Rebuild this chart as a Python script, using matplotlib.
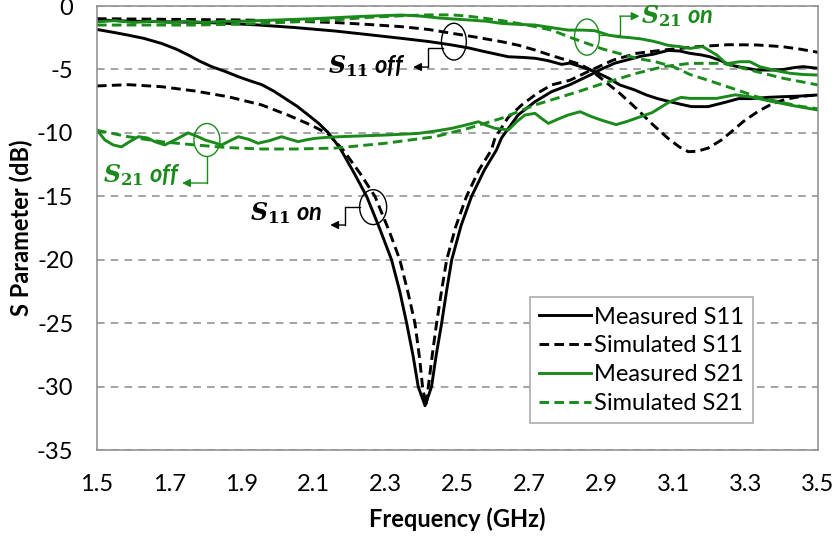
import matplotlib
matplotlib.use("Agg")
import matplotlib.pyplot as plt
from matplotlib.patches import Ellipse

plt.rcParams["font.family"] = ["Lato", "DejaVu Sans"]
plt.rcParams["mathtext.fontset"] = "dejavuserif"

# measured S11, "on" state (deep resonance near 2.41 GHz)
f_m11_on = [1.5, 1.55, 1.587, 1.63, 1.679, 1.72, 1.753, 1.785, 1.818, 1.855,
            1.892, 1.925, 1.957, 1.99, 2.021, 2.055, 2.086, 2.115, 2.142, 2.174,
            2.21, 2.248, 2.285, 2.317, 2.34, 2.359, 2.377, 2.391, 2.41, 2.428,
            2.441, 2.456, 2.47, 2.484, 2.51, 2.539, 2.575, 2.608, 2.622, 2.668,
            2.715, 2.761, 2.812, 2.867, 2.904, 2.937, 2.969, 3.01, 3.043, 3.084,
            3.117, 3.145, 3.177, 3.2, 3.23, 3.256, 3.29, 3.329, 3.37, 3.404,
            3.435, 3.459, 3.5]
m11_on = [-1.85, -2.1, -2.3, -2.55, -2.95, -3.4, -3.86, -4.35, -4.78, -5.15,
          -5.57, -5.9, -6.2, -6.7, -7.27, -7.9, -8.59, -9.25, -10.0, -11.2,
          -13.0, -15.0, -17.6, -20.0, -22.5, -25.0, -27.6, -30.0, -31.5, -30.0,
          -27.5, -25.0, -22.4, -20.0, -17.3, -15.0, -12.9, -11.35, -10.4, -8.59,
          -7.54, -6.75, -6.2, -5.45, -4.91, -4.5, -4.26, -3.95, -3.8, -3.5,
          -3.55, -3.73, -3.86, -4.0, -4.3, -4.65, -4.85, -5.04, -5.05, -5.0,
          -4.85, -4.78, -4.91]

# simulated S11, "on" state
f_s11_on = [1.5, 1.587, 1.679, 1.772, 1.864, 1.957, 2.03, 2.095, 2.142, 2.183,
            2.23, 2.271, 2.31, 2.34, 2.362, 2.382, 2.395, 2.403, 2.413, 2.419,
            2.43, 2.442, 2.456, 2.47, 2.495, 2.525, 2.56, 2.594, 2.604, 2.64,
            2.678, 2.72, 2.761, 2.812, 2.867, 2.932, 2.997, 3.071, 3.168, 3.25,
            3.33, 3.4, 3.45, 3.5]
s11_on = [-6.3, -6.2, -6.36, -6.7, -7.15, -7.8, -8.6, -9.4, -10.1, -11.35,
          -13.2, -15.0, -17.7, -20.0, -22.5, -25.0, -27.8, -30.0, -31.5, -30.0,
          -27.5, -25.0, -22.4, -20.0, -17.4, -15.0, -12.9, -11.35, -10.4, -8.8,
          -7.8, -6.9, -6.22, -5.85, -5.1, -4.26, -3.73, -3.47, -3.2, -3.05,
          -3.07, -3.2, -3.4, -3.65]

# measured S11, "off" state
f_m11_off = [1.5, 1.6, 1.7, 1.8, 1.864, 1.95, 2.05, 2.16, 2.25, 2.345,
             2.42, 2.484, 2.53, 2.576, 2.641, 2.68, 2.715, 2.75, 2.789, 2.812,
             2.849, 2.881, 2.92, 2.95, 2.99, 3.024, 3.055, 3.089, 3.12, 3.149,
             3.195, 3.241, 3.28, 3.315, 3.36, 3.399, 3.45, 3.5]
m11_off = [-1.1, -1.2, -1.25, -1.3, -1.37, -1.5, -1.7, -1.97, -2.25, -2.55,
           -2.8, -3.07, -3.3, -3.6, -4.0, -4.05, -4.12, -4.3, -4.6, -4.5,
           -4.85, -5.17, -5.7, -6.22, -6.6, -7.01, -7.3, -7.54, -7.75, -7.93,
           -7.93, -7.6, -7.3, -7.3, -7.2, -7.15, -7.1, -7.01]

# simulated S11, "off" state
f_s11_off = [1.5, 1.7, 1.9, 2.05, 2.16, 2.25, 2.345, 2.42, 2.484, 2.55,
             2.622, 2.67, 2.715, 2.76, 2.807, 2.84, 2.867, 2.904, 2.95, 2.997,
             3.04, 3.084, 3.115, 3.14, 3.165, 3.195, 3.23, 3.26, 3.293, 3.334,
             3.37, 3.41, 3.454, 3.5]
s11_off = [-1.0, -1.05, -1.1, -1.2, -1.3, -1.45, -1.63, -1.85, -2.15, -2.45,
           -2.81, -3.1, -3.47, -3.9, -4.3, -4.6, -5.0, -5.83, -6.88, -8.1,
           -9.3, -10.43, -11.1, -11.48, -11.45, -11.2, -10.6, -9.9, -9.1, -8.3,
           -7.75, -7.35, -7.12, -7.0]

# measured S21, "on" state
f_m21_on = [1.5, 1.55, 1.6, 1.65, 1.7, 1.75, 1.8, 1.85, 1.9, 1.95,
            2.0, 2.05, 2.1, 2.16, 2.25, 2.345, 2.4, 2.45, 2.53, 2.58,
            2.622, 2.67, 2.715, 2.76, 2.807, 2.85, 2.881, 2.92, 2.946, 2.98,
            3.01, 3.038, 3.06, 3.084, 3.117, 3.145, 3.18, 3.219, 3.246, 3.283,
            3.311, 3.338, 3.375, 3.422, 3.46, 3.5]
m21_on = [-1.25, -1.15, -1.3, -1.2, -1.3, -1.2, -1.3, -1.2, -1.2, -1.15,
          -1.1, -1.05, -1.0, -0.92, -0.8, -0.71, -0.8, -0.95, -1.1, -1.2,
          -1.37, -1.45, -1.5, -1.7, -1.9, -1.9, -1.95, -2.3, -2.42, -2.5,
          -2.6, -2.75, -2.9, -3.1, -3.2, -3.34, -3.2, -3.86, -4.55, -4.39,
          -4.39, -4.78, -5.04, -5.3, -5.4, -5.44]

# simulated S21, "on" state
f_s21_on = [1.5, 1.6, 1.772, 1.864, 1.957, 2.05, 2.16, 2.25, 2.345, 2.42,
            2.484, 2.53, 2.576, 2.622, 2.668, 2.715, 2.761, 2.82, 2.904, 2.997,
            3.05, 3.1, 3.145, 3.2, 3.274, 3.33, 3.4, 3.45, 3.5]
s21_on = [-1.5, -1.5, -1.5, -1.45, -1.37, -1.25, -1.1, -0.9, -0.77, -0.7,
          -0.7, -0.8, -0.97, -1.15, -1.37, -1.62, -1.9, -2.55, -3.4, -4.12,
          -4.4, -4.8, -5.4, -5.9, -6.6, -7.15, -7.6, -7.9, -8.1]

# measured S21, "off" state
f_m21_off = [1.5, 1.522, 1.545, 1.568, 1.59, 1.615, 1.64, 1.661, 1.688, 1.72,
             1.753, 1.78, 1.8, 1.846, 1.87, 1.892, 1.92, 1.947, 1.98, 2.012,
             2.035, 2.058, 2.08, 2.105, 2.14, 2.174, 2.22, 2.299, 2.35, 2.391,
             2.44, 2.484, 2.52, 2.558, 2.58, 2.604, 2.641, 2.665, 2.687, 2.715,
             2.735, 2.752, 2.78, 2.807, 2.84, 2.87, 2.9, 2.94, 2.97, 3.0,
             3.04, 3.089, 3.12, 3.145, 3.219, 3.27, 3.311, 3.375, 3.44, 3.5]
m21_off = [-9.77, -10.56, -10.95, -11.1, -10.7, -10.3, -10.4, -10.7, -10.95, -10.5,
           -10.0, -10.3, -10.56, -10.95, -10.6, -10.3, -10.5, -10.82, -10.6, -10.3,
           -10.5, -10.69, -10.55, -10.43, -10.35, -10.3, -10.25, -10.17, -10.1, -10.04,
           -9.85, -9.64, -9.4, -9.12, -9.4, -9.64, -9.77, -9.1, -8.59, -8.46,
           -8.9, -9.25, -8.9, -8.59, -8.33, -8.7, -9.0, -9.35, -9.1, -8.8,
           -8.4, -7.54, -7.2, -7.28, -7.28, -7.0, -7.15, -7.54, -7.9, -8.2]

# simulated S21, "off" state
f_s21_off = [1.5, 1.587, 1.679, 1.772, 1.864, 1.957, 2.049, 2.16, 2.299, 2.438,
             2.53, 2.622, 2.715, 2.84, 2.904, 2.997, 3.071, 3.145, 3.237, 3.311,
             3.404, 3.5]
s21_off = [-9.8, -10.3, -10.7, -10.95, -11.16, -11.27, -11.27, -11.2, -10.82, -10.3,
           -9.64, -8.85, -7.8, -6.7, -6.1, -5.3, -4.78, -4.52, -4.52, -5.04,
           -5.7, -6.22]

x_ticks = [1.5, 1.7, 1.9, 2.1, 2.3, 2.5, 2.7, 2.9, 3.1, 3.3, 3.5]
y_ticks = [0, -5, -10, -15, -20, -25, -30, -35]

black = "black"
green = "#1a8a1a"
dash = (3.3, 1.8)

fig = plt.figure(figsize=(8.36, 5.41), dpi=100)
ax = fig.add_axes([0.116, 0.168, 0.8625, 0.8209])

lw = 2.1
ax.plot(f_m11_on, m11_on, color=black, lw=lw, label="Measured S11")
ax.plot(f_m11_off, m11_off, color=black, lw=lw)
ax.plot(f_s11_on, s11_on, color=black, lw=lw, dashes=dash, label="Simulated S11")
ax.plot(f_s11_off, s11_off, color=black, lw=lw, dashes=dash)
ax.plot(f_m21_on, m21_on, color=green, lw=lw, label="Measured S21")
ax.plot(f_m21_off, m21_off, color=green, lw=lw)
ax.plot(f_s21_on, s21_on, color=green, lw=lw, dashes=dash, label="Simulated S21")
ax.plot(f_s21_off, s21_off, color=green, lw=lw, dashes=dash)

ax.set_xlim(1.5, 3.5)
ax.set_ylim(-35, 0)
ax.set_xticks(x_ticks)
ax.set_xticklabels([f"{v:.1f}" for v in x_ticks])
ax.set_yticks(y_ticks)
ax.set_yticklabels([f"{v:d}" for v in y_ticks])
ax.tick_params(length=0, labelsize=17, pad=17)
ax.yaxis.grid(True, color="#8c8c8c", lw=1.1, linestyle=(0, (5, 4)))
ax.set_axisbelow(True)
for s in ax.spines.values():
    s.set_color("#8c8c8c")
    s.set_linewidth(1.1)

ax.set_xlabel("Frequency (GHz)", fontsize=17, fontweight="bold", labelpad=9)
ax.set_ylabel("S Parameter (dB)", fontsize=17, fontweight="bold")
ax.yaxis.set_label_coords(-0.089, 0.5)

leg = ax.legend(loc="upper left", bbox_to_anchor=(0.6006, 0.3446), borderaxespad=0,
                fontsize=17, handlelength=2.2, handletextpad=0.1, labelspacing=0.33,
                frameon=True, fancybox=False, framealpha=1, borderpad=0.4)
leg.get_frame().set_edgecolor("#a6a6a6")
leg.get_frame().set_linewidth(1.1)


# annotations: ellipse on the curves, elbow connector, arrow to the label
def callout(center, w, h, path, color, text, text_xy, ha):
    ax.add_patch(Ellipse(center, w, h, fill=False, edgecolor=color, lw=1.0, zorder=5))
    xs = [p[0] for p in path[:-1]]
    ys = [p[1] for p in path[:-1]]
    ax.plot(xs, ys, color=color, lw=1.0, zorder=5)
    ax.annotate("", xy=path[-1], xytext=path[-2],
                arrowprops=dict(arrowstyle="-|>", color=color, lw=1.0,
                                mutation_scale=12, shrinkA=0, shrinkB=0), zorder=5)
    ax.text(text_xy[0], text_xy[1], text, color=color, fontsize=17, fontweight="bold",
            fontstyle="italic", ha=ha, va="center", zorder=5)


callout((2.490, -2.81), 0.069, 2.9, [(2.46, -3.31), (2.418, -3.31), (2.418, -4.81), (2.377, -4.81)],
        black, r"$\mathbfit{S}_{\mathbf{11}}$ off", (2.355, -4.75), "right")
callout((2.859, -2.45), 0.069, 2.85, [(2.893, -2.3), (2.95, -2.3), (2.95, -0.8), (3.005, -0.8)],
        green, r"$\mathbfit{S}_{\mathbf{21}}$ on", (3.01, -0.8), "left")
callout((1.805, -10.56), 0.072, 2.6, [(1.805, -11.9), (1.805, -13.95), (1.736, -13.95)],
        green, r"$\mathbfit{S}_{\mathbf{21}}$ off", (1.73, -13.3), "right")
callout((2.266, -15.85), 0.075, 2.75, [(2.23, -15.85), (2.188, -15.85), (2.188, -17.26), (2.147, -17.26)],
        black, r"$\mathbfit{S}_{\mathbf{11}}$ on", (2.125, -16.3), "right")

fig.savefig("out.png", dpi=100)
